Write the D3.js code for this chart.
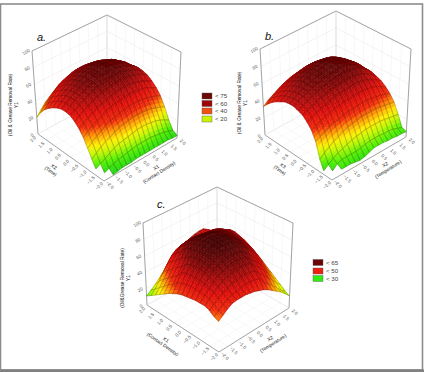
<!DOCTYPE html>
<html>
<head>
<meta charset="utf-8">
<script src="https://cdn.jsdelivr.net/npm/d3@7"></script>
<style>
  html, body { margin: 0; padding: 0; background: #fff; }
  svg { display: block; }
  text { font-family: "Liberation Sans", Arial, sans-serif; }
</style>
</head>
<body>
<svg id="chart" width="424" height="372"></svg>
<script>
// Coded factor levels at the surface nodes, and the labelled ticks on each axis.
const codedLevels = [-2,-1.75,-1.5,-1.25,-1,-0.75,-0.5,-0.25,0,0.25,0.5,0.75,1,1.25,1.5,1.75,2];
const codedTicks = [-2,-1.5,-1,-0.5,0,0.5,1,1.5,2];
const responseTicks = [0,20,40,60,80,100];

// Response surfaces: rows follow the left floor axis, columns the right floor axis.
const surfaceA = [
[null,null,1,2,3,3,3,4,4,4,4,4,4,4,4,3,3],
[null,3,5,7,9,10,11,12,13,13,13,13,12,11,10,8,6],
[7,10,13,16,19,21,22,23,24,25,25,25,24,23,21,18,15],
[15,19,23,26,28,31,33,34,35,36,36,36,35,34,32,30,27],
[24,28,32,35,38,41,42,44,45,46,46,46,45,44,42,40,37],
[33,37,41,44,46,49,51,52,53,54,54,54,53,52,50,47,44],
[40,44,47,50,53,55,57,58,59,60,60,60,59,57,55,52,49],
[45,49,52,55,58,60,62,63,64,65,65,65,64,62,60,57,53],
[49,53,56,59,62,64,66,67,68,69,69,69,67,65,63,59,55],
[50,54,58,61,63,66,68,69,70,71,71,71,69,67,64,61,56],
[50,54,58,61,64,67,68,70,71,72,72,71,70,68,65,60,55],
[48,53,57,60,63,66,68,70,71,72,72,71,70,68,64,60,54],
[45,50,54,58,61,64,66,68,69,70,70,69,68,66,62,58,52],
[41,46,50,54,58,61,63,65,66,67,67,66,65,62,59,55,49],
[36,41,46,50,53,56,59,61,62,63,63,62,61,58,55,51,45],
[29,35,39,44,48,51,53,55,57,58,58,57,56,54,51,46,41],
[20,26,32,36,40,44,47,49,51,52,52,51,50,48,45,41,36]
];
const surfaceB = [
[null,null,6,6,6,5,4,5,7,9,9,9,8,8,7,7,6],
[null,4,9,11,11,11,11,12,13,14,14,14,13,13,12,10,8],
[4,8,12,15,17,19,21,22,23,24,24,24,24,23,22,21,20],
[14,18,22,25,27,30,32,33,34,35,35,35,35,34,33,32,31],
[30,33,35,38,40,41,43,44,44,45,45,45,44,43,42,40,38],
[40,42,45,47,48,50,51,52,52,53,53,53,52,51,49,46,43],
[46,49,51,53,55,56,58,59,59,60,60,60,59,57,54,51,47],
[51,54,56,58,60,61,63,64,64,65,65,65,63,61,58,54,49],
[53,56,59,61,63,65,66,68,68,69,69,68,67,65,61,57,51],
[55,58,61,63,65,67,68,70,70,71,71,70,69,66,62,57,51],
[55,58,61,64,66,68,69,70,71,72,72,71,69,67,63,58,51],
[54,57,60,63,66,68,69,70,71,72,72,71,69,66,62,57,50],
[51,55,58,61,64,66,68,69,70,71,71,70,68,65,61,55,48],
[48,52,55,58,61,63,65,66,67,68,68,67,66,63,58,53,46],
[44,48,51,54,57,59,61,62,63,64,64,63,62,59,55,50,43],
[39,43,46,49,52,54,56,57,58,59,59,58,57,55,51,47,41],
[33,37,40,43,46,48,50,51,52,53,53,52,51,49,46,43,38]
];
const surfaceC = [
[34,38,42,45,46,46,46,45,44,42,40,37,33,29,25,20,14],
[36,40,44,47,49,50,51,52,52,51,50,43,38,33,27,21,17],
[40,44,48,51,54,56,57,58,58,57,56,50,45,39,33,27,21],
[42,47,52,55,59,61,63,64,64,63,62,56,51,45,38,31,25],
[42,48,53,58,62,64,66,67,68,67,66,61,56,50,43,36,29],
[42,49,55,60,65,68,70,71,72,71,70,66,60,55,48,40,33],
[41,49,56,62,67,70,73,74,75,74,73,70,66,60,54,46,37],
[40,49,56,63,68,72,75,76,77,76,75,72,68,63,57,49,41],
[39,48,56,63,68,73,76,77,78,77,76,73,70,65,60,53,45],
[37,46,55,62,68,72,76,77,78,77,76,74,70,66,61,55,48],
[34,44,53,60,66,71,74,76,77,76,75,73,70,67,62,57,51],
[31,38,46,54,62,70,73,75,76,76,75,73,70,67,63,58,53],
[27,35,42,50,58,67,70,72,73,73,72,70,68,66,63,59,55],
[23,30,37,45,53,60,66,68,69,69,68,67,66,64,62,58,55],
[19,25,32,40,48,55,61,63,64,64,63,62,61,61,59,55,52],
[15,20,27,35,43,50,54,56,57,57,56,56,55,54,53,51,47],
[11,15,19,24,29,35,40,44,48,51,53,55,56,56,52,47,41]
];

// Contour legends.
const legendLevelsAB = ["< 75","< 60","< 40","< 20"];
const legendColorsAB = ["#6b0808","#9c0606","#f25010","#c8f400"];
const legendLevelsC = ["< 65","< 50","< 30"];
const legendColorsC = ["#6b0404","#ee2010","#30ec10"];

// Surface colour ramp.
const rampStops = [0,10,18,25,33,40,50,60,66,78];
const rampColors = ["#10d010","#50f000","#c0f800","#fff000","#ff9000","#f02808","#e00c08","#a80808","#800404","#460000"];
const color = d3.scaleLinear().domain(rampStops).range(rampColors).clamp(true);

const svg = d3.select("#chart");

// Outer frame around the figure.
svg.append("rect").attr("x",0.5).attr("y",4).attr("width",422).attr("height",366)
  .attr("fill","none").attr("stroke","#8c8c8c").attr("stroke-width",1.6);
svg.append("rect").attr("x",0).attr("y",369.5).attr("width",424).attr("height",2.5).attr("fill","#808080");

const mix = (a, b, t) => [a[0] + (b[0]-a[0])*t, a[1] + (b[1]-a[1])*t];
const lineGen = d3.line();

function drawPanel(cfg) {
  const g = svg.append("g");
  const toU = d3.scaleLinear().domain([-2,2]).range([0,1]);
  const toV = d3.scaleLinear().domain([-2,2]).range([0,1]);
  const toH = d3.scaleLinear().domain([0,100]).range([0,1]);

  // Bilinear placement inside the floor and top quads, then lerp by height.
  const quad = (q, u, v) => mix(mix(q.front, q.right, u), mix(q.left, q.back, u), v);
  const project = (u, v, h) => mix(quad(cfg.floor, u, v), quad(cfg.top, u, v), h);

  const wire = (pts, stroke, w) => g.append("path").attr("d", lineGen(pts))
    .attr("fill","none").attr("stroke",stroke).attr("stroke-width",w);

  // Back walls and floor grid.
  responseTicks.slice(1).forEach(z => {
    const h = toH(z);
    wire([project(0,1,h), project(1,1,h), project(1,0,h)], "#e6e6e6", 0.5);
  });
  codedTicks.forEach(c => {
    const t = toU(c);
    wire([project(t,1,0), project(t,1,1)], "#eeeeee", 0.5);
    wire([project(1,t,0), project(1,t,1)], "#eeeeee", 0.5);
    wire([project(t,0,0), project(t,1,0)], "#f0f0f0", 0.5);
    wire([project(0,t,0), project(1,t,0)], "#f0f0f0", 0.5);
  });

  // Box outline.
  wire([project(0,1,1), project(1,1,1), project(1,0,1)], "#8e8e8e", 0.8);
  wire([project(0,1,0), project(0,1,1)], "#8e8e8e", 0.8);
  wire([project(1,0,0), project(1,0,1)], "#8e8e8e", 0.8);
  wire([project(1,1,0), project(1,1,1)], "#cfcfcf", 0.5);
  wire([project(0,1,0), project(0,0,0), project(1,0,0)], "#8e8e8e", 0.8);
  wire([project(0,1,0), project(1,1,0), project(1,0,0)], "#dddddd", 0.5);

  // Surface cells, painted from the back corner forward with a shaded fill.
  const steps = 3;
  const zs = cfg.values;
  const n = codedLevels.length;
  for (let j = n - 2; j >= 0; j--) {
    for (let i = n - 2; i >= 0; i--) {
      const z00 = zs[j][i], z10 = zs[j][i+1], z01 = zs[j+1][i], z11 = zs[j+1][i+1];
      if (z00 === null || z10 === null || z01 === null || z11 === null) continue;
      const u0 = toU(codedLevels[i]), u1 = toU(codedLevels[i+1]);
      const v0 = toV(codedLevels[j]), v1 = toV(codedLevels[j+1]);
      const at = (a, b) => {
        const z = (z00*(1-a) + z10*a)*(1-b) + (z01*(1-a) + z11*a)*b;
        return { z, p: project(u0 + (u1-u0)*a, v0 + (v1-v0)*b, toH(z)) };
      };
      for (let bi = steps - 1; bi >= 0; bi--) {
        for (let ai = steps - 1; ai >= 0; ai--) {
          const a0 = ai/steps, a1 = (ai+1)/steps, b0 = bi/steps, b1 = (bi+1)/steps;
          const c = color(at((a0+a1)/2, (b0+b1)/2).z);
          g.append("path")
            .attr("d", lineGen([at(a0,b0).p, at(a1,b0).p, at(a1,b1).p, at(a0,b1).p]) + "Z")
            .attr("fill", c).attr("stroke", c).attr("stroke-width", 0.4);
        }
      }
      g.append("path")
        .attr("d", lineGen([at(0,0).p, at(1,0).p, at(1,1).p, at(0,1).p]) + "Z")
        .attr("fill","none").attr("stroke","#1a0a0a").attr("stroke-width",0.4).attr("stroke-opacity",0.5);
    }
  }

  // Tick labels.
  const tickFmt = d3.format(".1f");
  const tickText = (p, angle, str) => g.append("text")
    .attr("transform", `translate(${p[0]},${p[1]}) rotate(${angle})`)
    .attr("text-anchor","middle").attr("dy","0.35em")
    .attr("font-size",4.6).attr("fill","#555").text(str);
  codedTicks.forEach(c => {
    const pl = project(0, toV(c), 0);
    tickText([pl[0]-5, pl[1]+5], -45, tickFmt(c));
    const pr = project(toU(c), 0, 0);
    tickText([pr[0]+6, pr[1]+4], 45, tickFmt(c));
  });
  responseTicks.forEach(z => {
    const p = project(0, 1, toH(z));
    tickText([p[0]-6, p[1]+1], -30, z);
  });

  // Axis titles, stacked two lines each.
  const title = (p, angle, lines, gap) => {
    const t = g.append("g").attr("transform", `translate(${p[0]},${p[1]}) rotate(${angle})`);
    lines.forEach((s, k) => t.append("text").attr("y", k*gap).attr("text-anchor","middle")
      .attr("font-size",4.8).attr("fill","#111").text(s));
  };
  title(cfg.zTitle, -90, [cfg.zName, "Y1"], 6.4);
  title(cfg.leftTitle, 35, cfg.leftName, 5.6);
  title(cfg.rightTitle, -32, cfg.rightName, 5.6);

  // Panel letter.
  g.append("text").attr("x",cfg.letter[0]).attr("y",cfg.letter[1])
    .attr("font-family","'Liberation Serif', serif").attr("font-style","italic")
    .attr("font-size",11).attr("fill","#111").text(cfg.letter[2]);
}

function drawLegend(x, ys, labels, colors) {
  const g = svg.append("g");
  labels.forEach((s, k) => {
    g.append("rect").attr("x",x).attr("y",ys[k]).attr("width",10).attr("height",6)
      .attr("fill",colors[k]).attr("stroke","#555").attr("stroke-width",0.4);
    g.append("text").attr("x",x+13).attr("y",ys[k]+5).attr("font-size",6.2).attr("fill","#444").text(s);
  });
}

drawPanel({
  values: surfaceA,
  floor: { front:[104,181], right:[177,138], back:[107,96], left:[38,134] },
  top:   { front:[107,93],  right:[181,52],  back:[107,15], left:[32,51] },
  zTitle:[12,105], zName:"(Oil & Grease Removal Rate)",
  leftTitle:[53,168], leftName:["X2","(Time)"],
  rightTitle:[157,169], rightName:["X1","(Contact Density)"],
  letter:[37,41,"a."]
});
drawPanel({
  values: surfaceB,
  floor: { front:[332,180], right:[406,137], back:[336,96], left:[265,135] },
  top:   { front:[336,90],  right:[411,49],  back:[336,11], left:[260,49] },
  zTitle:[241,103], zName:"(Oil & Grease Removal Rate)",
  leftTitle:[282,167], leftName:["X3","(Time)"],
  rightTitle:[386,166], rightName:["X2","(Temperature)"],
  letter:[265,40,"b."]
});
drawPanel({
  values: surfaceC,
  floor: { front:[219,352], right:[289,308], back:[217,266], left:[147,305] },
  top:   { front:[218,262], right:[293,223], back:[217,187], left:[143,223] },
  zTitle:[124,278], zName:"(Oil&Grease Removal Rate)",
  leftTitle:[165,341], leftName:["X1","(Contact Density)"],
  rightTitle:[271,340], rightName:["X2","(Temperature)"],
  letter:[157,208,"c."]
});

drawLegend(202, [93,100.5,108,116], legendLevelsAB, legendColorsAB);
drawLegend(313, [259.5,268,275.5], legendLevelsC, legendColorsC);
</script>
</body>
</html>
